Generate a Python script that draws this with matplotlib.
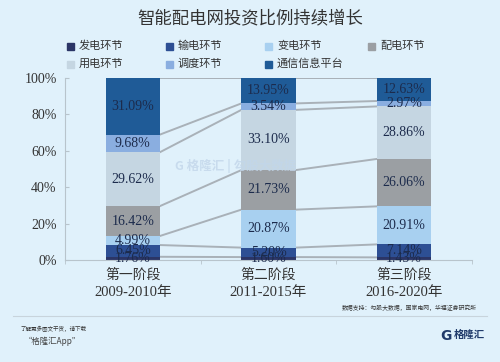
import matplotlib
matplotlib.use('Agg')
import matplotlib.pyplot as plt
from matplotlib.patches import Rectangle
import numpy as np

# data
stages = ['第一阶段\n2009-2010年', '第二阶段\n2011-2015年', '第三阶段\n2016-2020年']
series = ['发电环节', '输电环节', '变电环节', '配电环节', '用电环节', '调度环节', '通信信息平台']
fadian = [1.76, 1.60, 1.43]
shudian = [6.45, 5.20, 7.14]
biandian = [4.99, 20.87, 20.91]
peidian = [16.42, 21.73, 26.06]
yongdian = [29.62, 33.10, 28.86]
diaodu = [9.68, 3.54, 2.97]
tongxin = [31.09, 13.95, 12.63]
values = [fadian, shudian, biandian, peidian, yongdian, diaodu, tongxin]
yticks = [0, 20, 40, 60, 80, 100]

colors = ['#2b3566', '#2d4f94', '#a8d0f0', '#9b9fa3', '#c5d6e2', '#8aaee0', '#1f5b97']
bg = '#e0f1fb'
serif = ['Liberation Serif', 'Noto Sans CJK SC']
cjk = ['Noto Sans CJK SC', 'DejaVu Sans']

fig = plt.figure(figsize=(5, 3.62), dpi=100, facecolor=bg)
ax = fig.add_axes([0.13, 0.2818, 0.814, 0.5027])
ax.set_facecolor(bg)

x = np.arange(len(stages))
w = 0.4
bottom = np.zeros(len(stages))
tops = []
for i, vals in enumerate(values):
    v = np.array(vals)
    ax.bar(x, v, w, bottom=bottom, color=colors[i], edgecolor='none', zorder=2)
    for j in range(len(x)):
        ax.text(x[j], bottom[j] + v[j] / 2, '%.2f%%' % v[j], ha='center', va='center',
                fontsize=10, family=serif, color='#1c2b4c', zorder=4)
    bottom = bottom + v
    tops.append(bottom.copy())

# connecting lines between bars
for t in tops:
    for j in range(len(x) - 1):
        ax.plot([x[j] + w / 2, x[j + 1] - w / 2], [t[j], t[j + 1]], color='#a9b1b8', lw=1.4, zorder=1)

ax.set_xlim(-0.5, 2.5)
ax.set_ylim(0, 100)
ax.set_yticks(yticks)
ax.set_yticklabels(['%d%%' % t for t in yticks], family=serif, fontsize=10, color='#333333')
ax.tick_params(axis='y', direction='in', length=3, color='#b8c4cc', pad=6)
ax.set_xticks(x)
ax.set_xticklabels([])
ax.tick_params(axis='x', length=0)
ax.set_xticks([-0.5, 0.5, 1.5, 2.5], minor=True)
ax.tick_params(axis='x', which='minor', direction='out', length=3, color='#b8c4cc')
for s in ['top', 'right']:
    ax.spines[s].set_visible(False)
for s in ['left', 'bottom']:
    ax.spines[s].set_color('#b8c4cc')

for j, lab in enumerate(stages):
    l1, l2 = lab.split('\n')
    ax.text(x[j], -8.5, l1, ha='center', va='center', fontsize=10, family=serif, color='#333333')
    ax.text(x[j], -18, l2, ha='center', va='center', fontsize=10.5, family=serif, color='#333333')

# legend drawn by hand
leg_x = [67, 166, 265, 368]
leg_y = [46, 64]
for i, name in enumerate(series):
    px = leg_x[i % 4]
    py = leg_y[i // 4]
    fig.patches.append(Rectangle((px / 500, 1 - (py + 3.5) / 362), 7 / 500, 7 / 362,
                                 transform=fig.transFigure, color=colors[i]))
    fig.text((px + 12) / 500, 1 - py / 362, name, ha='left', va='center',
             fontsize=8, family=cjk, color='#333333')

fig.text(0.5, 1 - 18 / 362, '智能配电网投资比例持续增长', ha='center', va='center',
         fontsize=12.5, family=cjk, color='#333333', weight='medium')

# watermark
fig.text(236 / 500, 1 - 166 / 362, 'G 格隆汇 | 勾股大数据', ha='center', va='center',
         fontsize=9, family=cjk, color='#c2d6ea', weight='bold', alpha=0.8, zorder=5)

fig.text(477 / 500, 1 - 308 / 362, '数据支持：勾股大数据，国家电网，华福证券研究所', ha='right', va='center',
         fontsize=4.2, family=cjk, color='#333333')
fig.add_artist(plt.Line2D([13 / 500, 487 / 500], [1 - 316 / 362] * 2, color='#c8d4dc', lw=0.8))
fig.text(20 / 500, 1 - 329 / 362, '了解更多图文干货，请下载', ha='left', va='center',
         fontsize=4, family=cjk, color='#333333', style='italic')
fig.text(24 / 500, 1 - 341 / 362, '“格隆汇App”', ha='left', va='center',
         fontsize=6, family=cjk, color='#444444')
fig.text(446 / 500, 1 - 336 / 362, 'G', ha='center', va='center', fontsize=10,
         family='DejaVu Sans', weight='bold', color='#1f3a6a')
fig.text(454 / 500, 1 - 335 / 362, '格隆汇', ha='left', va='center', fontsize=7.5,
         family=cjk, weight='bold', color='#1f3a6a')

fig.savefig('out.png', dpi=100, facecolor=bg)
